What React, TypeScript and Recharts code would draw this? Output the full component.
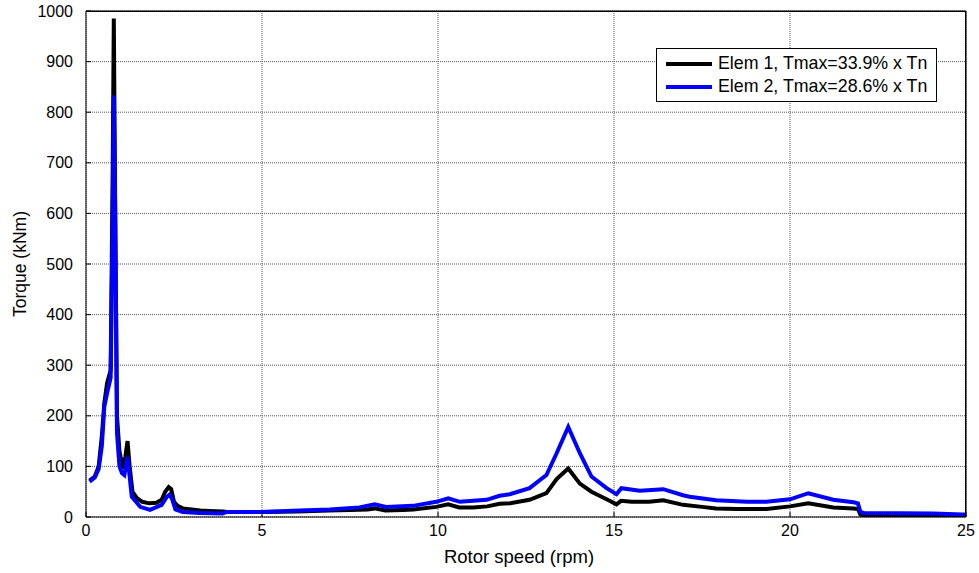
import React from 'react';
import { LineChart, Line, XAxis, YAxis, CartesianGrid, Legend, ReferenceLine } from 'recharts';

const speed1 = [0.1, 0.25, 0.36, 0.45, 0.52, 0.6, 0.7, 0.76, 0.79, 0.83, 0.88, 0.95, 1.05, 1.12, 1.18, 1.24, 1.32, 1.45, 1.6, 1.8, 2.0, 2.15, 2.25, 2.35, 2.42, 2.5, 2.6, 2.75, 3.0, 3.25, 3.5, 3.9, 4.0, 5.0, 6.0, 6.9, 7.5, 8.0, 8.2, 8.5, 9.0, 9.3, 9.95, 10.29, 10.6, 11.0, 11.4, 11.75, 12.05, 12.6, 13.08, 13.37, 13.7, 14.03, 14.36, 14.79, 15.07, 15.2, 15.5, 16.0, 16.4, 16.96, 17.5, 17.9, 18.5, 19.33, 20.0, 20.52, 21.23, 21.8, 21.93, 22.0, 22.1, 24.0, 25.0];
const torque1 = [72, 80, 100, 160, 225, 265, 290, 700, 985, 600, 200, 130, 95, 120, 150, 100, 50, 37, 30, 27, 28, 34, 50, 59, 55, 30, 22, 17, 15, 13, 12, 11, 10, 10, 11, 13, 14, 15, 17, 13, 14, 15, 20, 25, 19, 19, 21, 26, 27, 34, 47, 75, 96, 66, 50, 35, 25, 32, 30, 30, 33, 24, 20, 17, 16, 16, 21, 27, 19, 17, 16, 5, 3, 3, 2];

const speed2 = [0.1, 0.25, 0.36, 0.45, 0.52, 0.6, 0.7, 0.76, 0.79, 0.83, 0.88, 0.95, 1.02, 1.09, 1.18, 1.24, 1.3, 1.54, 1.82, 2.15, 2.3, 2.37, 2.45, 2.54, 2.75, 3.23, 3.88, 4.0, 5.0, 6.07, 6.92, 7.77, 8.2, 8.53, 9.29, 9.95, 10.29, 10.62, 11.38, 11.75, 12.04, 12.6, 13.08, 13.37, 13.7, 14.03, 14.36, 14.79, 15.07, 15.21, 15.73, 16.4, 16.96, 17.15, 17.9, 18.77, 19.33, 20.0, 20.52, 21.23, 21.8, 21.93, 22.0, 22.1, 24.07, 24.9, 25.0];
const torque2 = [70, 78, 95, 140, 218, 245, 275, 600, 833, 600, 166, 100, 87, 83, 119, 80, 40, 20, 14, 24, 40, 44, 35, 15, 10, 8, 7, 10, 10, 13, 15, 19, 25, 20, 22, 30, 37, 30, 34, 42, 45, 57, 83, 126, 178, 126, 80, 57, 45, 57, 52, 55, 43, 40, 33, 30, 30, 35, 47, 34, 29, 27, 10, 8, 7, 5, 5];

const xTicks = [0, 5, 10, 15, 20, 25];
const yTicks = [0, 100, 200, 300, 400, 500, 600, 700, 800, 900, 1000];
const xMax = 25;
const yMax = 1000;

const seriesNames = ['Elem 1, Tmax=33.9% x Tn', 'Elem 2, Tmax=28.6% x Tn'];
const seriesColors = ['#000000', '#0000ff'];

const data1 = speed1.map((s, i) => ({ speed: s, torque: torque1[i] }));
const data2 = speed2.map((s, i) => ({ speed: s, torque: torque2[i] }));

const FONT = '"Liberation Sans", Arial, sans-serif';

const W = 979;
const H = 573;
const MARGIN = { top: 11, right: 13, bottom: 0, left: 0 };
const Y_AXIS_W = 86;
const X_AXIS_H = 56;

const LegendBox = () => (
  <div
    style={{
      border: '1px solid #000',
      background: '#fff',
      width: 281,
      height: 54,
      boxSizing: 'border-box',
      fontFamily: FONT,
      fontSize: 17.8,
      color: '#000',
      padding: '3px 0 0 9px',
    }}
  >
    {seriesNames.map((n, i) => (
      <div key={n} style={{ display: 'flex', alignItems: 'center', height: 23, whiteSpace: 'nowrap' }}>
        <div style={{ width: 46, height: 4, background: seriesColors[i], marginRight: 6, flexShrink: 0 }} />
        <span>{n}</span>
      </div>
    ))}
  </div>
);

export default function App() {
  const plotLeft = MARGIN.left + Y_AXIS_W;
  const plotTop = MARGIN.top;
  const plotW = W - MARGIN.right - plotLeft;
  const plotH = H - MARGIN.bottom - X_AXIS_H - plotTop;
  return (
    <div style={{ position: 'absolute', left: 0, top: 0, width: W, height: H, background: '#fff' }}>
      <LineChart width={W} height={H} margin={MARGIN} style={{ fontFamily: FONT }}>
        <CartesianGrid stroke="#555" strokeDasharray="1 1" />
        <XAxis
          dataKey="speed"
          type="number"
          domain={[0, xMax]}
          ticks={xTicks}
          allowDataOverflow
          height={X_AXIS_H}
          stroke="#000"
          tickSize={-5}
          tickMargin={13}
          tick={{ fill: '#000', fontSize: 16, fontFamily: FONT }}
          label={{
            content: (p: any) => {
              const vb = p.viewBox;
              return (
                <text x={vb.x + vb.width / 2 - 7} y={vb.y + 46} textAnchor="middle" fontSize={18.5} fontFamily={FONT} fill="#000">
                  Rotor speed (rpm)
                </text>
              );
            },
          }}
        />
        <YAxis
          type="number"
          domain={[0, yMax]}
          ticks={yTicks}
          allowDataOverflow
          width={Y_AXIS_W}
          stroke="#000"
          tickSize={-5}
          tickMargin={18}
          tick={{ fill: '#000', fontSize: 16, fontFamily: FONT }}
          label={{
            content: (p: any) => {
              const vb = p.viewBox;
              const cx = vb.x + 20;
              const cy = vb.y + vb.height / 2;
              return (
                <text x={cx} y={cy} transform={`rotate(-90 ${cx} ${cy})`} textAnchor="middle" dominantBaseline="central" fontSize={17.5} fontFamily={FONT} fill="#000">
                  Torque (kNm)
                </text>
              );
            },
          }}
        />
        <ReferenceLine y={yMax} stroke="#000" strokeWidth={1} ifOverflow="visible" />
        <ReferenceLine x={xMax} stroke="#000" strokeWidth={1} ifOverflow="visible" />
        <Legend
          layout="vertical"
          align="center"
          verticalAlign="middle"
          wrapperStyle={{ left: 656, top: 48, width: 281, height: 54 }}
          content={() => <LegendBox />}
        />
        <Line
          data={data1}
          dataKey="torque"
          name={seriesNames[0]}
          stroke={seriesColors[0]}
          strokeWidth={4}
          dot={false}
          type="linear"
          isAnimationActive={false}
        />
        <Line
          data={data2}
          dataKey="torque"
          name={seriesNames[1]}
          stroke={seriesColors[1]}
          strokeWidth={4}
          dot={false}
          type="linear"
          isAnimationActive={false}
        />
      </LineChart>
      <div
        style={{
          position: 'absolute',
          left: plotLeft,
          top: plotTop,
          width: plotW,
          height: plotH,
          borderTop: '1px solid #000000',
          borderRight: '1px solid #000000',
          boxSizing: 'border-box',
          pointerEvents: 'none',
          zIndex: 10,
        }}
      />
    </div>
  );
}
